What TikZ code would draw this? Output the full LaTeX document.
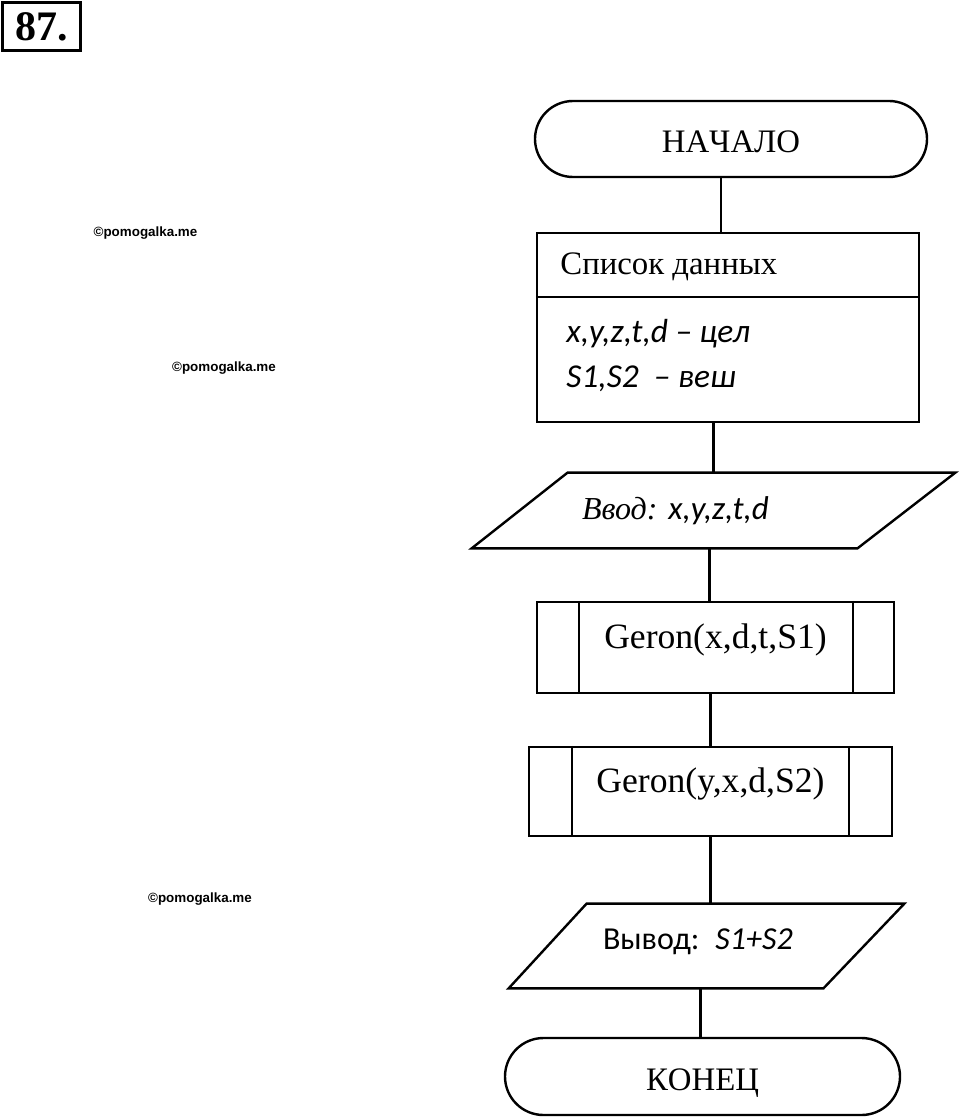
\documentclass[tikz,border=0pt]{standalone}
\usepackage{fontspec}
\setmainfont{Liberation Serif}
\newfontfamily\calibrifont{Carlito}
\newfontfamily\arialfont{Liberation Sans}
\newfontfamily\termfont[Kerning=Off]{Liberation Serif}
\usetikzlibrary{calc,shapes.misc}
\def\fsz#1{\fontsize{#1}{#1}\selectfont}
\tikzset{
	block/.style={draw, line width=1.2pt, rectangle, inner sep=0pt},
	terminal/.style={draw, line width=1.2pt, rounded rectangle, inner sep=0pt, text height=14pt, text depth=0pt, font=\fsz{16.4}\termfont},
	iobox/.style={rectangle, inner sep=0pt, align=left},
	subproc/.style={block, font=\fsz{17.8}, text depth=11.2pt},
	link/.style={line width=1.2pt},
	wmark/.style={inner sep=0pt, font=\fsz{6.7}\arialfont\bfseries}
}

\begin{document}
\begin{tikzpicture}[x=0.5pt, y=-0.5pt]
			%%%%% START %%%%%
			\useasboundingbox (0,0) rectangle (960,1118);
			
			\node[draw, line width=1.5pt, minimum width=39pt, minimum height=24pt, inner sep=0pt, font=\fsz{21}\bfseries] (num) at (41.5,26.5) {87.};
			
			\node[wmark] (wm1) at (145.5,233) {©pomogalka.me};
			\node[wmark] (wm2) at (224,368) {©pomogalka.me};
			\node[wmark] (wm3) at (200,899) {©pomogalka.me};
			
			\node[terminal, minimum width=196pt, minimum height=38pt] (start) at (731,139) {НАЧАЛО};
			
			\node[block, minimum width=191pt, minimum height=94.5pt] (data) at (728,327.5) {};
			\draw[link] ([yshift=-32.5pt]data.north west) -- ([yshift=-32.5pt]data.north east);
			\node[anchor=base west, inner sep=0pt, font=\fsz{16.4}] (head) at (560,274) {Список данных};
			\node[anchor=base west, inner sep=0pt, font=\fsz{16.7}\calibrifont\itshape] (ints) at (566,342) {x,y,z,t,d – цел};
			\node[anchor=base west, inner sep=0pt, font=\fsz{16.7}\calibrifont\itshape] (reals) at (566,387) {S1,S2\ \ – веш};
			
			\node[iobox, minimum width=241.5pt, minimum height=37.5pt, text width=131.5pt, font=\fsz{16}] (vvod) at (713.5,510.5) {\textit{Ввод:}\hspace{5.5pt}{\fsz{16.5}\calibrifont\itshape x,y,z,t,d}};
			\draw[link] ([xshift=48pt]vvod.north west) -- (vvod.north east) -- ([xshift=-49pt]vvod.south east) -- (vvod.south west) -- cycle;
			
			\node[subproc, minimum width=178.5pt, minimum height=45.5pt] (geron1) at (715.5,647.5) {Geron(x,d,t,S1)};
			\draw[link] ([xshift=21.5pt]geron1.north west) -- ([xshift=21.5pt]geron1.south west);
			\draw[link] ([xshift=-21pt]geron1.north east) -- ([xshift=-21pt]geron1.south east);
			
			\node[subproc, minimum width=181.5pt, minimum height=44.5pt] (geron2) at (710.5,791.5) {Geron(y,x,d,S2)};
			\draw[link] ([xshift=22pt]geron2.north west) -- ([xshift=22pt]geron2.south west);
			\draw[link] ([xshift=-22pt]geron2.north east) -- ([xshift=-22pt]geron2.south east);
			
			\node[iobox, minimum width=197.5pt, minimum height=42pt, text width=103.5pt, text depth=7pt, font=\fsz{16}\calibrifont] (vyvod) at (706.5,946) {Вывод:\hspace{8pt}\textit{S1+S2}};
			\draw[link] ([xshift=39pt]vyvod.north west) -- (vyvod.north east) -- ([xshift=-40.5pt]vyvod.south east) -- (vyvod.south west) -- cycle;
			
			\node[terminal, minimum width=197.5pt, minimum height=38.5pt] (stop) at (702.5,1076.5) {КОНЕЦ};
			
			\draw[link] ([xshift=-5pt]start.south) -- ([xshift=-5pt]start.south |- data.north);
			\draw[link] (data.south -| vvod.north) -- (vvod.north);
			\draw[link] ([xshift=-2pt]vvod.south) -- ([xshift=-2pt]vvod.south |- geron1.north);
			\draw[link] (geron1.south -| geron2.north) -- (geron2.north);
			\draw[link] (geron2.south) -- (geron2.south |- vyvod.north);
			\draw[link] ([xshift=-3pt]vyvod.south) -- ([xshift=-3pt]vyvod.south |- stop.north);
			
			%%%%% END %%%%%
\end{tikzpicture}
\end{document}
